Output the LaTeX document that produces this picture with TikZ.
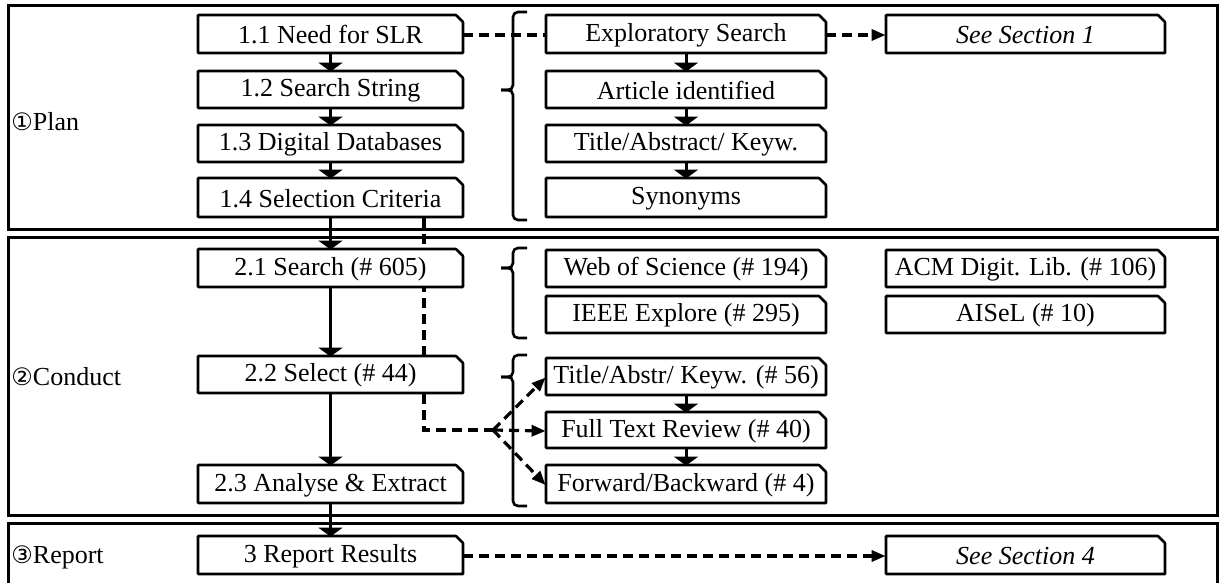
\documentclass[tikz,border=0pt]{standalone}
\usepackage{fontspec}
\setmainfont{Liberation Serif}
\newfontfamily\circfont{DejaVu Sans}
\usetikzlibrary{arrows.meta}
\pgfdeclarelayer{bg}
\pgfsetlayers{bg,main}
% name, x1, y1, x2, y2, text
\newcommand\cbox[6]{%
  \filldraw[boxline] (#2,#5) -- (#2,#3) -- ({#4-7},#3) -- (#4,{#3+7}) -- (#4,#5) -- cycle;
  \pgfmathsetmacro\cbw{(#4-#2)*0.5}%
  \pgfmathsetmacro\cbh{(#5-#3)*0.5}%
  \node[boxtext, minimum width=\cbw pt, minimum height=\cbh pt] (#1) at ({(#2+#4)/2},{(#3+#5)/2+1}) {#6};
}
\begin{document}
\begin{tikzpicture}[x=0.5pt,y=-0.5pt,
  boxline/.style={line width=1.3pt, fill=white, rounded corners=0.3pt},
  boxtext/.style={inner sep=0pt, font=\fontsize{13}{15}\selectfont},
  panel/.style={line width=1.5pt},
  flow/.style={line width=1.5pt, -{Triangle[width=12pt,length=4.5pt]}},
  dashl/.style={line width=1.6pt, dash pattern=on 5pt off 3pt},
  dasharr/.style={dashl, -{Triangle[width=5.5pt,length=7pt]}},
  bracel/.style={line width=1.3pt, rounded corners=2.5pt},
  phase/.style={anchor=west, inner sep=0pt, font=\fontsize{13}{15}\selectfont}
]
\useasboundingbox (0,0) rectangle (1219,583);

% panels
\draw[panel] (8,6) rectangle (1217,229);
\draw[panel] (8,237) rectangle (1217,515);
\draw[panel] (8,583) -- (8,523) -- (1217,523) -- (1217,583);

% phase labels
\node[phase] (p1) at (11,122) {{\circfont\fontsize{12}{13}\selectfont ①}Plan};
\node[phase] (p2) at (11,377) {{\circfont\fontsize{12}{13}\selectfont ②}Conduct};
\node[phase] (p3) at (11,557) {{\circfont\fontsize{12}{13}\selectfont ③}Report};

% braces
\draw[bracel] (527,12) -| (513,90) -- (501,90);
\draw[bracel] (501,90) -- (513,90) |- (527,220);
\draw[bracel] (527,248) -| (513,268) -- (501,268);
\draw[bracel] (501,268) -- (513,268) |- (527,338);
\draw[bracel] (527,355) -| (513,377) -- (501,377);
\draw[bracel] (501,377) -- (513,377) |- (527,506);

% left column
\cbox{n11}{198}{15}{463}{53}{1.1 Need for SLR}
\cbox{n12}{198}{71}{463}{108}{1.2 Search String}
\cbox{n13}{198}{125}{463}{162}{1.3 Digital Databases}
\cbox{n14}{198}{178}{463}{217}{1.4 Selection Criteria}
\cbox{n21}{198}{249}{463}{287}{2.1 Search (\# 605)}
\cbox{n22}{198}{356}{463}{393}{2.2 Select (\# 44)}
\cbox{n23}{198}{465}{463}{503}{2.3 Analyse \& Extract}
\cbox{n3}{198}{536}{463}{574}{3 Report Results}

% middle column
\cbox{ex}{546}{15}{826}{53}{Exploratory Search}
\cbox{ai}{546}{71}{826}{108}{Article identified}
\cbox{ta}{546}{125}{826}{162}{Title/Abstract/ Keyw.}
\cbox{syn}{546}{178}{826}{217}{Synonyms}
\cbox{wos}{546}{250}{826}{287}{Web of Science (\# 194)}
\cbox{ieee}{546}{296}{826}{333}{IEEE Explore (\# 295)}
\cbox{t56}{546}{358}{826}{395}{Title/Abstr/ Keyw. (\# 56)}
\cbox{ft40}{546}{412}{826}{448}{Full Text Review (\# 40)}
\cbox{fb4}{546}{465}{826}{503}{Forward/Backward (\# 4)}

% right column
\cbox{ss1}{886}{15}{1165}{53}{\textit{See Section 1}}
\cbox{acm}{886}{250}{1165}{287}{ACM Digit. Lib. (\# 106)}
\cbox{ais}{886}{296}{1165}{333}{AISeL (\# 10)}
\cbox{ss4}{886}{536}{1165}{574}{\textit{See Section 4}}

% dashed selection path behind boxes
\coordinate (dx) at (424,0);
\coordinate (jn) at (493,430);
\begin{pgfonlayer}{bg}
\draw[dashl] (n14.south -| dx) |- (jn);
\end{pgfonlayer}

% solid flow arrows
\draw[flow] (n11.south) -- (n12.north);
\draw[flow] (n12.south) -- (n13.north);
\draw[flow] (n13.south) -- (n14.north);
\draw[flow] (n14.south) -- (n21.north);
\draw[flow] (n21.south) -- (n22.north);
\draw[flow] (n22.south) -- (n23.north);
\draw[flow] (n23.south) -- (n3.north);
\draw[flow] (ex.south) -- (ai.north);
\draw[flow] (ai.south) -- (ta.north);
\draw[flow] (ta.south) -- (syn.north);
\draw[flow] (t56.south) -- (ft40.north);
\draw[flow] (ft40.south) -- (fb4.north);

% dashed connectors
\draw[dashl] (n11.east) -- (ex.west);
\draw[dasharr] (ex.east) -- (ss1.west);
\draw[dasharr] (n3.east) -- (ss4.west);
\draw[dasharr] (jn) -- (t56.west);
\draw[dasharr] (jn) -- (ft40.west);
\draw[dasharr] (jn) -- (fb4.west);
\end{tikzpicture}
\end{document}
